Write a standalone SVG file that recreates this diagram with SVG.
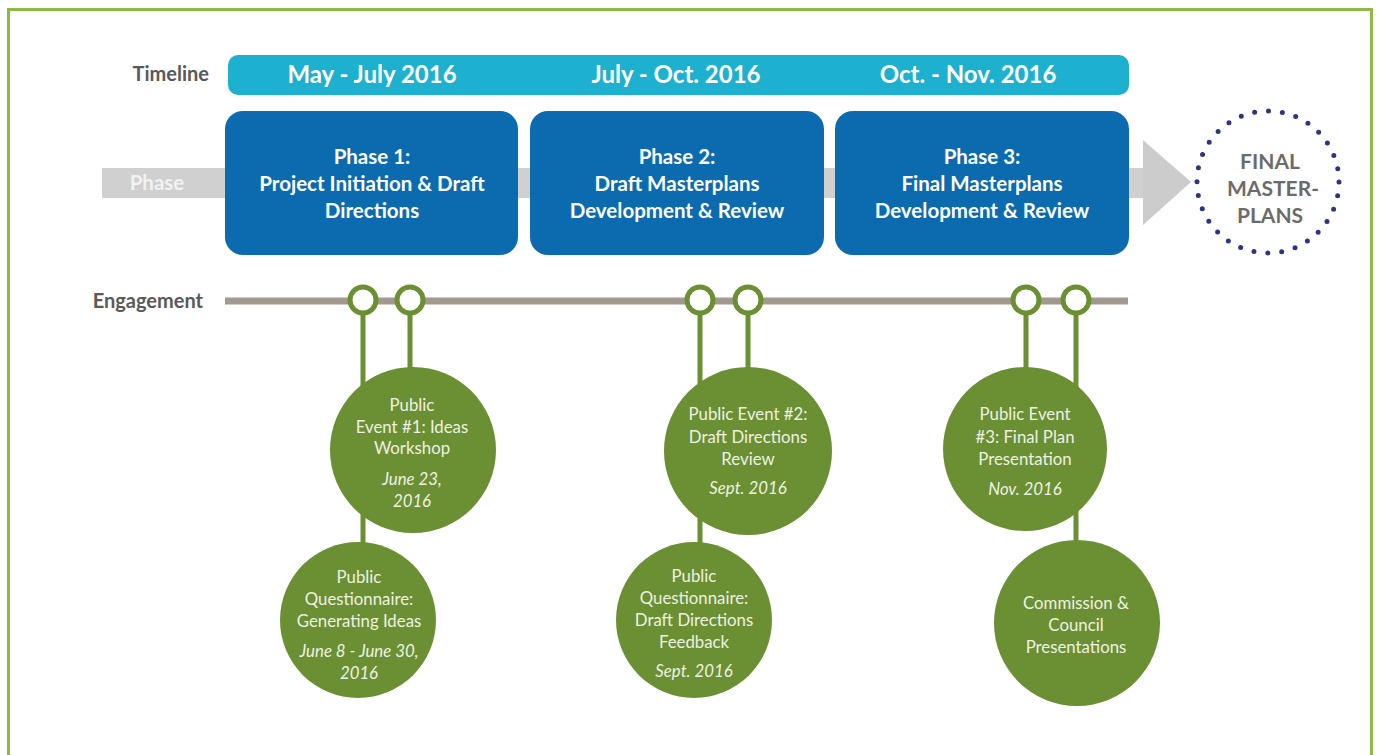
<svg xmlns="http://www.w3.org/2000/svg" width="1377" height="755" viewBox="0 0 1377 755">
<style>
.lbl{font-family:Lato,"Open Sans",sans-serif;font-weight:bold;fill:#595959;font-size:20px}
.tl{font-family:Lato,"Open Sans",sans-serif;font-weight:bold;fill:#ffffff;font-size:24px;text-anchor:middle}
.ph{font-family:Lato,"Open Sans",sans-serif;font-weight:bold;fill:#ffffff;font-size:20.5px;text-anchor:middle}
.box{fill:#0B6BAE}
.gc{fill:#6B8F33}
.gt{font-family:Lato,"Open Sans",sans-serif;fill:#EEF2E2;font-size:16.8px;text-anchor:middle}
.gi{font-style:italic}
.ring{fill:#ffffff;stroke:#6B8F33;stroke-width:5}
.stem{stroke:#6B8F33;stroke-width:5;fill:none}
.fin{font-family:Lato,"Open Sans",sans-serif;font-weight:bold;fill:#6B6B6B;font-size:21px;text-anchor:middle}
</style>
<rect x="0" y="0" width="1377" height="755" fill="#ffffff"/>
<rect x="8.5" y="9.5" width="1363" height="760" fill="none" stroke="#8DB944" stroke-width="3"/>

<g id="labels">
<text class="lbl" x="209" y="81" text-anchor="end">Timeline</text>
<text class="lbl" x="203" y="308" text-anchor="end">Engagement</text>
</g>

<g id="timeline">
<rect x="228" y="55" width="901" height="40" rx="10" fill="#1DB1CF"/>
<text class="tl" x="372" y="83">May - July 2016</text>
<text class="tl" x="676" y="83">July - Oct. 2016</text>
<text class="tl" x="968" y="83">Oct. - Nov. 2016</text>
</g>

<g id="phase-arrow">
<rect x="102" y="168" width="1045" height="30" fill="#D0D0D0"/>
<polygon points="1143,140 1191,182 1143,225" fill="#CCCCCC"/>
<text x="157" y="190" font-family="Lato, 'Open Sans', sans-serif" font-weight="bold" font-size="20.5" fill="#F2F2F2" text-anchor="middle">Phase</text>
</g>

<g id="phase1">
<rect class="box" x="225" y="111" width="293" height="144" rx="18"/>
<text class="ph" x="372" y="164">Phase 1:</text>
<text class="ph" x="372" y="191">Project Initiation &amp; Draft</text>
<text class="ph" x="372" y="218">Directions</text>
</g>
<g id="phase2">
<rect class="box" x="530" y="111" width="294" height="144" rx="18"/>
<text class="ph" x="677" y="164">Phase 2:</text>
<text class="ph" x="677" y="191">Draft Masterplans</text>
<text class="ph" x="677" y="218">Development &amp; Review</text>
</g>
<g id="phase3">
<rect class="box" x="835" y="111" width="294" height="144" rx="18"/>
<text class="ph" x="982" y="164">Phase 3:</text>
<text class="ph" x="982" y="191">Final Masterplans</text>
<text class="ph" x="982" y="218">Development &amp; Review</text>
</g>

<g id="final">
<circle cx="1268" cy="182" r="71" fill="none" stroke="#2E3580" stroke-width="5" stroke-linecap="round" stroke-dasharray="0 13.94"/>
<text class="fin" x="1270" y="169">FINAL</text>
<text class="fin" x="1273" y="196">MASTER-</text>
<text class="fin" x="1270" y="223">PLANS</text>
</g>

<g id="connectors">
<line x1="225" y1="301" x2="1128" y2="301" stroke="#A39A8F" stroke-width="7"/>
<line class="stem" x1="363" y1="314" x2="363" y2="550"/>
<line class="stem" x1="410" y1="314" x2="410" y2="375"/>
<line class="stem" x1="700" y1="314" x2="700" y2="550"/>
<line class="stem" x1="748" y1="314" x2="748" y2="375"/>
<line class="stem" x1="1026" y1="314" x2="1026" y2="375"/>
<line class="stem" x1="1076" y1="314" x2="1076" y2="550"/>
<circle class="ring" cx="363" cy="300" r="13"/>
<circle class="ring" cx="410" cy="300" r="13"/>
<circle class="ring" cx="700" cy="300" r="13"/>
<circle class="ring" cx="748" cy="300" r="13"/>
<circle class="ring" cx="1026" cy="300" r="13"/>
<circle class="ring" cx="1076" cy="300" r="13"/>
</g>

<g id="event1">
<circle class="gc" cx="413" cy="450" r="83"/>
<text class="gt" x="412" y="411">Public</text>
<text class="gt" x="412" y="433">Event #1: Ideas</text>
<text class="gt" x="412" y="454">Workshop</text>
<text class="gt gi" x="412" y="485">June 23,</text>
<text class="gt gi" x="412" y="507">2016</text>
</g>
<g id="questionnaire1">
<circle class="gc" cx="358" cy="620" r="78"/>
<text class="gt" x="359" y="583">Public</text>
<text class="gt" x="359" y="605">Questionnaire:</text>
<text class="gt" x="359" y="627">Generating Ideas</text>
<text class="gt gi" x="359" y="657">June 8 - June 30,</text>
<text class="gt gi" x="359" y="679">2016</text>
</g>
<g id="event2">
<circle class="gc" cx="748" cy="451" r="84"/>
<text class="gt" x="748" y="420">Public Event #2:</text>
<text class="gt" x="748" y="443">Draft Directions</text>
<text class="gt" x="748" y="465">Review</text>
<text class="gt gi" x="748" y="494">Sept. 2016</text>
</g>
<g id="questionnaire2">
<circle class="gc" cx="694" cy="620" r="78"/>
<text class="gt" x="694" y="582">Public</text>
<text class="gt" x="694" y="604">Questionnaire:</text>
<text class="gt" x="694" y="626">Draft Directions</text>
<text class="gt" x="694" y="648">Feedback</text>
<text class="gt gi" x="694" y="677">Sept. 2016</text>
</g>
<g id="event3">
<circle class="gc" cx="1025" cy="449" r="82"/>
<text class="gt" x="1025" y="420">Public Event</text>
<text class="gt" x="1025" y="443">#3: Final Plan</text>
<text class="gt" x="1025" y="465">Presentation</text>
<text class="gt gi" x="1025" y="495">Nov. 2016</text>
</g>
<g id="commission">
<circle class="gc" cx="1077" cy="623" r="83"/>
<text class="gt" x="1076" y="609">Commission &amp;</text>
<text class="gt" x="1076" y="631">Council</text>
<text class="gt" x="1076" y="653">Presentations</text>
</g>
</svg>
